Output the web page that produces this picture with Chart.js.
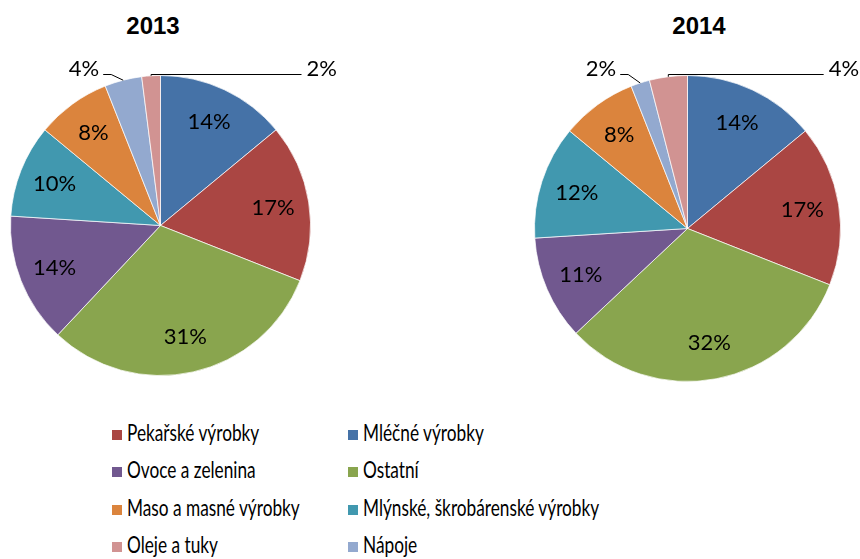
<!DOCTYPE html>
<html>
<head>
<meta charset="utf-8">
<script src="https://cdn.jsdelivr.net/npm/chart.js@4.4.0/dist/chart.umd.min.js"></script>
<style>
  body { margin: 0; background: #fff; }
  #wrap { position: relative; width: 860px; height: 559px; overflow: hidden; }
  canvas { position: absolute; }
  .title { position: absolute; width: 200px; text-align: center; font: bold 24px "Liberation Sans", Arial, sans-serif; line-height: 24px; color: #000; }
  .item { position: absolute; height: 23px; white-space: nowrap; }
  .item i { position: absolute; left: 0; top: 9px; width: 10px; height: 10px; }
  .item span { position: absolute; left: 15px; top: 0; font: 23px Lato, sans-serif; line-height: 23px; color: #000; transform: scaleX(0.75); transform-origin: 0 0; }
</style>
</head>
<body>
<div id="wrap">
  <div class="title" style="left:53px; top:14px;">2013</div>
  <div class="title" style="left:599px; top:14px;">2014</div>
  <canvas id="pie2013" width="350" height="345" style="left:0; top:41px;"></canvas>
  <canvas id="pie2014" width="340" height="350" style="left:520px; top:41px;"></canvas>
  <div id="legend"></div>
</div>
<script>
// kategorie v pořadí výsečí (od 12 hodin po směru hodin)
const categories = ['Mléčné výrobky', 'Pekařské výrobky', 'Ostatní', 'Ovoce a zelenina',
    'Mlýnské, škrobárenské výrobky', 'Maso a masné výrobky', 'Nápoje', 'Oleje a tuky'];
const colors = ['#4572A7', '#AA4643', '#89A54E', '#71588F', '#4198AF', '#DB843D', '#93A9CF', '#D19392'];
const values2013 = [14, 17, 31, 14, 10, 8, 4, 2];
const values2014 = [14, 17, 32, 11, 12, 8, 2, 4];
// pořadí položek legendy (po řádcích, dva sloupce)
const legendOrder = ['Pekařské výrobky', 'Mléčné výrobky', 'Ovoce a zelenina', 'Ostatní',
    'Maso a masné výrobky', 'Mlýnské, škrobárenské výrobky', 'Oleje a tuky', 'Nápoje'];

// popisky procent, malé výseče ven s odkazovou čarou
const sliceLabels = {
    id: 'sliceLabels',
    afterDatasetsDraw(chart, args, opts) {
        const ctx = chart.ctx;
        const meta = chart.getDatasetMeta(0);
        const data = chart.data.datasets[0].data;
        const last = meta.data.length - 1;
        ctx.save();
        ctx.font = '22px Lato, sans-serif';
        ctx.fillStyle = '#000';
        ctx.strokeStyle = '#000';
        ctx.lineWidth = 1;
        meta.data.forEach((arc, i) => {
            const p = arc.getProps(['x', 'y', 'startAngle', 'endAngle', 'outerRadius'], true);
            const mid = (p.startAngle + p.endAngle) / 2;
            const text = data[i] + '%';
            if (data[i] >= 5) {
                ctx.textAlign = 'center';
                ctx.textBaseline = 'middle';
                ctx.fillText(text, p.x + Math.cos(mid) * p.outerRadius * 0.76, p.y + Math.sin(mid) * p.outerRadius * 0.76);
                return;
            }
            const ex = p.x + Math.cos(mid) * p.outerRadius;
            const ey = p.y + Math.sin(mid) * p.outerRadius;
            const ly = p.y - p.outerRadius - 1;
            ctx.beginPath();
            ctx.moveTo(ex, ey);
            if (i === last) {
                const endX = p.x + p.outerRadius * opts.reach;
                ctx.lineTo(ex, ly);
                ctx.lineTo(endX, ly);
                ctx.stroke();
                ctx.textAlign = 'left';
                ctx.textBaseline = 'middle';
                ctx.fillText(text, endX + 5, ly - 6);
            } else {
                ctx.lineTo(ex - 12, ly);
                ctx.lineTo(ex - 20, ly);
                ctx.stroke();
                ctx.textAlign = 'right';
                ctx.textBaseline = 'middle';
                ctx.fillText(text, ex - 24, ly - 6);
            }
        });
        ctx.restore();
    }
};

function makePie(id, values, padding, reach) {
    new Chart(document.getElementById(id), {
        type: 'pie',
        data: {
            labels: categories,
            datasets: [{
                data: values,
                backgroundColor: colors,
                borderColor: 'rgba(255,255,255,0.7)',
                borderWidth: 1,
                hoverBorderWidth: 1,
                hoverOffset: 0,
                offset: 0
            }]
        },
        options: {
            responsive: false,
            animation: false,
            devicePixelRatio: 1,
            layout: { padding: padding },
            plugins: {
                legend: { display: false },
                tooltip: { enabled: false },
                sliceLabels: { reach: reach }
            }
        },
        plugins: [sliceLabels]
    });
}

document.fonts.load('22px Lato').then(() => {
    makePie('pie2013', values2013, { left: 10, top: 34, right: 39, bottom: 10 }, 0.94);
    makePie('pie2014', values2014, { left: 14, top: 34, right: 19, bottom: 9 }, 0.89);
});

// legenda
const legend = document.getElementById('legend');
legendOrder.forEach((name, k) => {
    const col = k % 2, row = Math.floor(k / 2);
    const el = document.createElement('div');
    el.className = 'item';
    el.style.left = (col ? 348 : 112) + 'px';
    el.style.top = (421 + row * 37.3) + 'px';
    el.innerHTML = '<i style="background:' + colors[categories.indexOf(name)] + '"></i><span>' + name + '</span>';
    legend.appendChild(el);
});
</script>
</body>
</html>
